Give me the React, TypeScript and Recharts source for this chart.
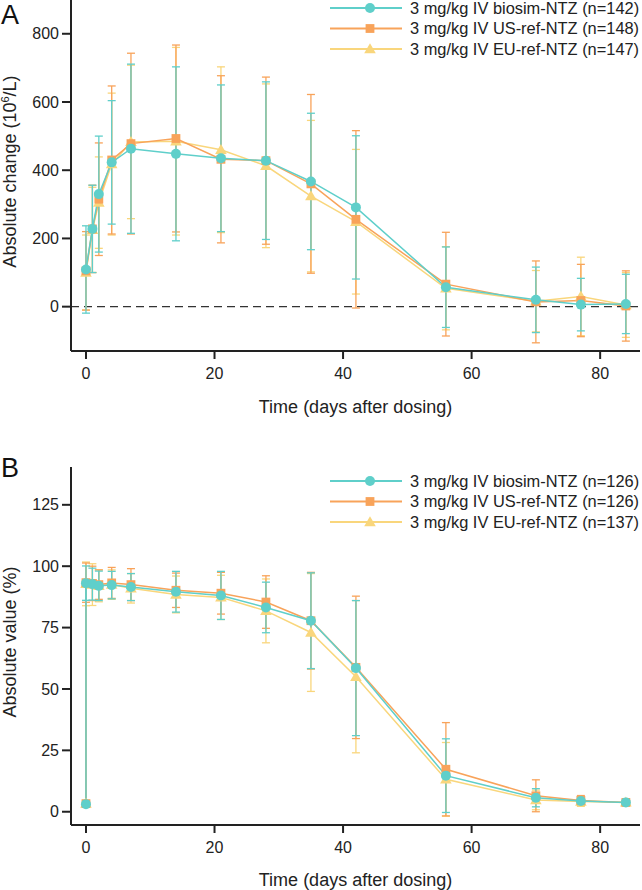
import { ErrorBar, Label, Line, LineChart, ReferenceLine, XAxis, YAxis } from "recharts";

// panel A: absolute change in lymphocytes (10^6/L)
const changeDays = [0, 1, 2, 4, 7, 14, 21, 28, 35, 42, 56, 70, 77, 84];
const changeBiosim = [109, 228, 330, 423, 463, 448, 435, 428, 367, 291, 57, 20, 6, 8];
const changeBiosimSd = [128, 128, 170, 181, 248, 255, 215, 231, 200, 210, 118, 96, 77, 87];
const changeUs = [105, 228, 315, 430, 478, 493, 432, 428, 360, 256, 66, 14, 18, 2];
const changeUsSd = [115, 128, 165, 217, 265, 274, 245, 245, 262, 260, 152, 120, 106, 103];
const changeEu = [100, 225, 305, 418, 483, 485, 460, 413, 324, 249, 54, 16, 30, 5];
const changeEuSd = [110, 125, 134, 208, 225, 275, 243, 240, 222, 212, 122, 90, 115, 95];

// panel B: absolute value (%), pre-dose point at day 0 first
const valueDays = [0, 0, 1, 2, 4, 7, 14, 21, 28, 35, 42, 56, 70, 77, 84];
const valueBiosim = [3.1, 93.1, 92.7, 92.0, 92.3, 91.5, 89.6, 88.1, 83.2, 77.8, 58.5, 14.7, 5.7, 4.4, 3.8];
const valueBiosimSd = [1, 7, 6.5, 6, 5.6, 5.5, 8.3, 9.8, 10.3, 19.5, 27.5, 15, 3.7, 1.5, 1];
const valueUs = [3.3, 93.3, 93.0, 92.5, 93.2, 92.5, 90.2, 89.0, 85.4, 77.8, 58.8, 17.3, 6.5, 4.6, 3.8];
const valueUsSd = [1, 8, 7, 6, 6.3, 6.5, 7, 8.5, 10.7, 19.7, 29, 19, 6.5, 2, 1];
const valueEu = [3.3, 92.8, 92.5, 92.0, 92.5, 91.0, 88.5, 87.3, 81.8, 73.0, 55.0, 13.2, 4.8, 4.2, 3.8];
const valueEuSd = [1, 8.9, 8.5, 6.5, 6, 6, 7.5, 9, 13, 24, 31, 15, 4, 2, 1];

const xTicks = [0, 20, 40, 60, 80];
const changeTicks = [0, 200, 400, 600, 800];
const valueTicks = [0, 25, 50, 75, 100, 125];

const changeLegend = [
  "3 mg/kg IV biosim-NTZ (n=142)",
  "3 mg/kg IV US-ref-NTZ (n=148)",
  "3 mg/kg IV EU-ref-NTZ (n=147)",
];
const valueLegend = [
  "3 mg/kg IV biosim-NTZ (n=126)",
  "3 mg/kg IV US-ref-NTZ (n=126)",
  "3 mg/kg IV EU-ref-NTZ (n=137)",
];

const TEAL = "#5fcfca";
const ORANGE = "#f8a35a";
const YELLOW = "#f9d67c";
const INK = "#222";
const FONT = '"Liberation Sans", Arial, sans-serif';

const changeRows = changeDays.map((day, i) => ({
  day,
  bio: changeBiosim[i],
  bioSd: changeBiosimSd[i],
  us: changeUs[i],
  usSd: changeUsSd[i],
  eu: changeEu[i],
  euSd: changeEuSd[i],
}));

const valueRows = valueDays.map((day, i) => ({
  day,
  bio: valueBiosim[i],
  bioSd: valueBiosimSd[i],
  us: valueUs[i],
  usSd: valueUsSd[i],
  eu: valueEu[i],
  euSd: valueEuSd[i],
}));

const circleDot = (p: any) => <circle key={p.index} cx={p.cx} cy={p.cy} r={5} fill={TEAL} />;
const squareDot = (p: any) => (
  <rect key={p.index} x={p.cx - 4.4} y={p.cy - 4.4} width={8.8} height={8.8} fill={ORANGE} />
);
const triangleDot = (p: any) => (
  <polygon
    key={p.index}
    points={`${p.cx},${p.cy - 5.8} ${p.cx + 5.8},${p.cy + 4.2} ${p.cx - 5.8},${p.cy + 4.2}`}
    fill={YELLOW}
  />
);

const markers = [
  (x: number, y: number) => <circle cx={x} cy={y} r={5} fill={TEAL} />,
  (x: number, y: number) => <rect x={x - 4.4} y={y - 4.4} width={8.8} height={8.8} fill={ORANGE} />,
  (x: number, y: number) => (
    <polygon points={`${x},${y - 5.8} ${x + 5.8},${y + 4.2} ${x - 5.8},${y + 4.2}`} fill={YELLOW} />
  ),
];
const legendColors = [TEAL, ORANGE, YELLOW];

function LegendBox({ labels, top }: { labels: string[]; top: number }) {
  return (
    <svg style={{ position: "absolute", left: 325, top }} width={317} height={64}>
      {labels.map((label, i) => {
        const y = 8 + i * 20.5;
        return (
          <g key={label}>
            <line x1={5} x2={77} y1={y} y2={y} stroke={legendColors[i]} strokeWidth={1.8} />
            {markers[i](45, y)}
            <text x={85} y={y + 5.8} fontSize={16.4} fill={INK} fontFamily={FONT}>
              {label}
            </text>
          </g>
        );
      })}
    </svg>
  );
}

function Panel({
  rows,
  domain,
  ticks,
  title,
  marginTop,
  xAxisHeight,
  labelOffset,
  zeroLine,
}: {
  rows: any[];
  domain: [number, number];
  ticks: number[];
  title: React.ReactNode;
  marginTop: number;
  xAxisHeight: number;
  labelOffset: number;
  zeroLine: boolean;
}) {
  const tick = { fontSize: 16, fill: INK, fontFamily: FONT };
  const axisLine = { stroke: INK, strokeWidth: 2 };
  return (
    <LineChart
      width={642}
      height={445}
      data={rows}
      margin={{ top: marginTop, right: 2, bottom: 0, left: 0 }}
    >
      <XAxis
        dataKey="day"
        type="number"
        domain={[-2.33, 86.2]}
        ticks={xTicks}
        allowDataOverflow
        height={xAxisHeight}
        tick={tick}
        tickSize={8}
        tickMargin={9}
        axisLine={axisLine}
        tickLine={axisLine}
      >
        <Label
          value="Time (days after dosing)"
          position="insideBottom"
          offset={labelOffset}
          style={{ fontSize: 18, fill: INK, fontFamily: FONT }}
        />
      </XAxis>
      <YAxis
        type="number"
        domain={domain}
        ticks={ticks}
        allowDataOverflow
        width={71}
        tick={tick}
        tickSize={9}
        tickMargin={3}
        axisLine={axisLine}
        tickLine={axisLine}
      >
        <Label
          content={(p: any) => {
            const vb = p.viewBox || { y: 0, height: 0 };
            const cy = vb.y + vb.height / 2 - 4;
            return (
              <text
                x={16}
                y={cy}
                transform={`rotate(-90 16 ${cy})`}
                textAnchor="middle"
                fontSize={18}
                fill={INK}
                fontFamily={FONT}
              >
                {title}
              </text>
            );
          }}
        />
      </YAxis>
      {zeroLine && <ReferenceLine y={0} stroke="#333" strokeWidth={1.3} strokeDasharray="8 5" />}
      <Line
        dataKey="eu"
        stroke={YELLOW}
        strokeWidth={1.5}
        dot={triangleDot}
        activeDot={false}
        isAnimationActive={false}
      >
        <ErrorBar dataKey="euSd" width={4} stroke={YELLOW} strokeWidth={1.3} direction="y" />
      </Line>
      <Line
        dataKey="us"
        stroke={ORANGE}
        strokeWidth={1.5}
        dot={squareDot}
        activeDot={false}
        isAnimationActive={false}
      >
        <ErrorBar dataKey="usSd" width={4} stroke={ORANGE} strokeWidth={1.3} direction="y" />
      </Line>
      <Line
        dataKey="bio"
        stroke={TEAL}
        strokeWidth={1.5}
        dot={circleDot}
        activeDot={false}
        isAnimationActive={false}
      >
        <ErrorBar dataKey="bioSd" width={4} stroke={TEAL} strokeWidth={1.3} direction="y" />
      </Line>
    </LineChart>
  );
}

export default function App() {
  return (
    <div
      style={{
        position: "absolute",
        left: 0,
        top: 0,
        width: 642,
        height: 890,
        background: "#fff",
        fontFamily: FONT,
        overflow: "hidden",
      }}
    >
      <div style={{ position: "absolute", left: 0, top: 0 }}>
        <Panel
          rows={changeRows}
          domain={[-130, 899]}
          ticks={changeTicks}
          title={
            <>
              Absolute change (10
              <tspan dy={-7} fontSize={11}>
                6
              </tspan>
              <tspan dy={7}>/L)</tspan>
            </>
          }
          marginTop={0}
          xAxisHeight={94}
          labelOffset={32}
          zeroLine
        />
      </div>
      <div style={{ position: "absolute", left: 0, top: 445 }}>
        <Panel
          rows={valueRows}
          domain={[-5.4, 140.4]}
          ticks={valueTicks}
          title="Absolute value (%)"
          marginTop={22}
          xAxisHeight={65}
          labelOffset={4}
          zeroLine={false}
        />
      </div>
      <div style={{ position: "absolute", left: 1, top: 0, fontSize: 27, color: "#111" }}>A</div>
      <div style={{ position: "absolute", left: 1, top: 453, fontSize: 27, color: "#111" }}>B</div>
      <LegendBox labels={changeLegend} top={0} />
      <LegendBox labels={valueLegend} top={473} />
    </div>
  );
}
